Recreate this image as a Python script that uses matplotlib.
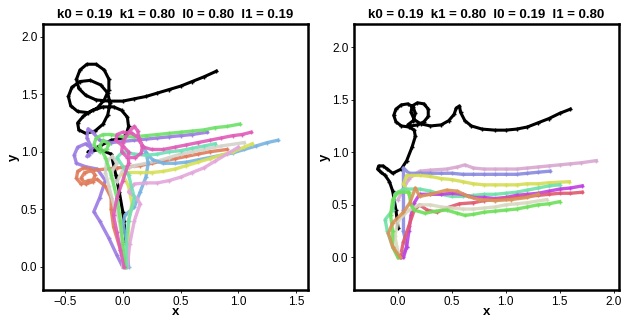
import numpy as np
import matplotlib.pyplot as plt

plt.rcParams.update({"font.family": ["Liberation Sans", "DejaVu Sans"], "font.size": 8.5})

# ---- left panel: k0 = 0.19, k1 = 0.80, l0 = 0.80, l1 = 0.19 ----
left_title = "k0 = 0.19  k1 = 0.80  l0 = 0.80  l1 = 0.19"
left_black_x = [0.03, 0.02, 0.01, 0.0, -0.03, -0.06, -0.1, -0.2, -0.3, -0.2, -0.1, 0.0, 0.03,
                0.05, 0.04, -0.01, -0.08, -0.17, -0.26, -0.34, -0.39, -0.38, -0.32, -0.24, -0.17,
                -0.13, -0.11, -0.13, -0.19, -0.28, -0.37, -0.44, -0.47, -0.45, -0.39, -0.3, -0.22,
                -0.16, -0.12, -0.12, -0.16, -0.23, -0.31, -0.37, -0.4, -0.38, -0.32, -0.23, -0.12,
                0.0, 0.1, 0.2, 0.3, 0.4, 0.5, 0.6, 0.7, 0.81]
left_black_y = [0.22, 0.3, 0.4, 0.48, 0.65, 0.8, 0.98, 1.02, 1.0, 1.05, 1.1, 1.12, 1.15,
                1.22, 1.3, 1.36, 1.39, 1.39, 1.36, 1.31, 1.25, 1.19, 1.16, 1.18, 1.24,
                1.32, 1.42, 1.51, 1.58, 1.62, 1.61, 1.56, 1.48, 1.4, 1.35, 1.34, 1.38,
                1.45, 1.54, 1.63, 1.71, 1.76, 1.76, 1.71, 1.63, 1.55, 1.49, 1.45, 1.44,
                1.44, 1.46, 1.48, 1.51, 1.54, 1.57, 1.61, 1.65, 1.7]

left_series = {
    "#9B7BE3": ([0.0, -0.05, -0.12, -0.2, -0.25, -0.2, -0.15, -0.22, -0.32, -0.4, -0.42, -0.39, -0.32,
                 -0.27, -0.29, -0.31, -0.27, -0.28, -0.31, -0.3, -0.26, -0.2, -0.1, 0.0, 0.1, 0.2,
                 0.3, 0.4, 0.5, 0.6, 0.73],
                [0.0, 0.1, 0.25, 0.4, 0.48, 0.6, 0.75, 0.85, 0.87, 0.9, 0.97, 1.04, 1.07,
                 1.03, 0.97, 0.96, 1.0, 1.06, 1.12, 1.2, 1.17, 1.1, 1.08, 1.09, 1.1, 1.11,
                 1.12, 1.13, 1.14, 1.15, 1.17]),
    "#E07B5B": ([0.02, -0.02, -0.08, -0.1, -0.1, -0.15, -0.22, -0.3, -0.36, -0.4, -0.39, -0.34, -0.28,
                 -0.24, -0.26, -0.32, -0.36, -0.33, -0.25, -0.15, -0.05, 0.05, 0.15, 0.25, 0.35, 0.45,
                 0.55, 0.65, 0.75, 0.9],
                [0.0, 0.15, 0.35, 0.5, 0.6, 0.7, 0.76, 0.75, 0.72, 0.77, 0.83, 0.86, 0.85,
                 0.8, 0.74, 0.72, 0.77, 0.82, 0.84, 0.85, 0.86, 0.87, 0.88, 0.9, 0.92, 0.94,
                 0.96, 0.98, 1.0, 1.02]),
    "#D3D3CB": ([0.0, 0.0, -0.03, -0.08, -0.12, -0.15, -0.14, -0.09, -0.05, -0.09, -0.1, -0.05, 0.0,
                 0.1, 0.2, 0.3, 0.4, 0.5, 0.6, 0.7, 0.85, 1.05],
                [0.0, 0.2, 0.4, 0.55, 0.7, 0.82, 0.92, 0.96, 0.9, 0.84, 0.77, 0.74, 0.84,
                 0.88, 0.9, 0.92, 0.95, 0.98, 1.0, 1.02, 1.05, 1.08]),
    "#78B3E0": ([0.05, 0.04, 0.0, 0.02, 0.1, 0.15, 0.2, 0.22, 0.2, 0.17, 0.2, 0.26, 0.35, 0.45, 0.55,
                 0.65, 0.75, 0.85, 0.95, 1.05, 1.15, 1.25, 1.34],
                [0.0, 0.2, 0.38, 0.45, 0.52, 0.65, 0.78, 0.9, 1.0, 1.05, 0.99, 0.93, 0.9, 0.9, 0.91,
                 0.93, 0.95, 0.97, 0.99, 1.02, 1.05, 1.08, 1.1]),
    "#D6E05A": ([0.03, 0.05, 0.05, 0.08, 0.05, 0.0, 0.05, 0.15, 0.25, 0.35, 0.45, 0.55, 0.65, 0.75,
                 0.85, 0.95, 1.05, 1.12],
                [0.0, 0.2, 0.4, 0.55, 0.7, 0.8, 0.82, 0.82, 0.82, 0.83, 0.85, 0.88, 0.91, 0.94,
                 0.97, 1.0, 1.04, 1.07]),
    "#E3A6DB": ([0.04, 0.06, 0.1, 0.15, 0.12, 0.05, 0.1, 0.2, 0.3, 0.4, 0.5, 0.6, 0.7, 0.8, 0.9, 1.0],
                [0.0, 0.2, 0.4, 0.55, 0.6, 0.65, 0.72, 0.73, 0.73, 0.75, 0.78, 0.82, 0.86, 0.92, 0.98, 1.04]),
    "#6FE0B5": ([0.03, 0.03, 0.05, 0.1, 0.05, -0.05, 0.0, 0.1, 0.2, 0.3, 0.4, 0.5, 0.6, 0.7, 0.8],
                [0.0, 0.2, 0.4, 0.6, 0.8, 0.95, 1.0, 0.98, 0.97, 0.98, 1.0, 1.01, 1.03, 1.05, 1.07]),
    "#6EE069": ([0.02, 0.0, -0.02, -0.05, -0.1, -0.15, -0.2, -0.17, -0.12, -0.14, -0.2, -0.25, -0.23,
                 -0.17, -0.1, 0.0, 0.1, 0.2, 0.3, 0.4, 0.5, 0.6, 0.7, 0.8, 0.9, 1.01],
                [0.0, 0.2, 0.4, 0.6, 0.8, 0.95, 1.05, 1.1, 1.07, 1.02, 1.0, 1.06, 1.12,
                 1.15, 1.15, 1.13, 1.13, 1.14, 1.15, 1.16, 1.17, 1.18, 1.19, 1.21, 1.22, 1.24]),
    "#E05CB8": ([0.01, -0.02, -0.05, -0.08, -0.05, 0.0, 0.05, 0.05, 0.0, -0.06, -0.05, 0.0, 0.08,
                 0.14, 0.17, 0.16, 0.11, 0.04, -0.01, 0.0, 0.05, 0.1, 0.13, 0.14, 0.18, 0.25, 0.35,
                 0.45, 0.55, 0.65, 0.75, 0.85, 0.95, 1.03, 1.11],
                [0.0, 0.15, 0.3, 0.45, 0.6, 0.75, 0.9, 1.0, 1.05, 1.1, 1.15, 1.17, 1.16,
                 1.12, 1.05, 0.99, 0.95, 0.95, 1.0, 1.08, 1.17, 1.22, 1.18, 1.1, 1.04, 1.02, 1.02,
                 1.04, 1.06, 1.08, 1.1, 1.12, 1.14, 1.15, 1.17]),
}

# ---- right panel: k0 = 0.19, k1 = 0.80, l0 = 0.19, l1 = 0.80 ----
right_title = "k0 = 0.19  k1 = 0.80  l0 = 0.19  l1 = 0.80"
right_black_x = [0.0, -0.02, -0.05, -0.08, -0.12, -0.16, -0.19, -0.18, -0.14, -0.1, -0.05, 0.03,
                 0.08, 0.13, 0.16, 0.15, 0.1, 0.03, -0.02, -0.04, -0.02, 0.03, 0.09, 0.14, 0.16,
                 0.14, 0.09, 0.12, 0.18, 0.24, 0.28, 0.28, 0.24, 0.18, 0.13, 0.12, 0.15, 0.21,
                 0.3, 0.4, 0.47, 0.52, 0.54, 0.57, 0.58, 0.62, 0.68, 0.78, 0.9, 1.0, 1.1, 1.2,
                 1.3, 1.4, 1.5, 1.6]
right_black_y = [0.28, 0.45, 0.63, 0.72, 0.78, 0.81, 0.84, 0.87, 0.87, 0.84, 0.8, 0.84,
                 0.92, 1.05, 1.15, 1.21, 1.24, 1.25, 1.29, 1.35, 1.41, 1.45, 1.46, 1.43, 1.37,
                 1.3, 1.26, 1.25, 1.26, 1.29, 1.34, 1.41, 1.46, 1.47, 1.44, 1.38, 1.31, 1.27,
                 1.25, 1.26, 1.3, 1.36, 1.42, 1.44, 1.38, 1.3, 1.25, 1.22, 1.21, 1.21, 1.22, 1.24,
                 1.28, 1.32, 1.37, 1.41]

right_series = {
    "#D8A8D0": ([0.0, 0.1, 0.2, 0.3, 0.45, 0.55, 0.62, 0.7, 0.8, 0.9, 1.0, 1.1, 1.2, 1.3, 1.4, 1.5,
                 1.6, 1.7, 1.84],
                [0.55, 0.75, 0.82, 0.83, 0.84, 0.86, 0.88, 0.85, 0.84, 0.84, 0.84, 0.84, 0.85, 0.86,
                 0.87, 0.88, 0.89, 0.9, 0.92]),
    "#8A8AE0": ([0.03, 0.08, 0.05, 0.05, 0.05, 0.05, 0.1, 0.2, 0.3, 0.4, 0.5, 0.6, 0.7, 0.8, 0.9,
                 1.0, 1.1, 1.2, 1.3, 1.41],
                [0.0, 0.1, 0.25, 0.45, 0.65, 0.85, 0.8, 0.8, 0.8, 0.8, 0.8, 0.79, 0.79, 0.79, 0.79,
                 0.79, 0.79, 0.8, 0.81, 0.82]),
    "#D5DD55": ([0.1, 0.05, 0.08, 0.2, 0.3, 0.4, 0.5, 0.6, 0.7, 0.8, 0.9, 1.0, 1.1, 1.2, 1.3, 1.4,
                 1.59],
                [0.6, 0.7, 0.78, 0.78, 0.77, 0.75, 0.74, 0.72, 0.7, 0.69, 0.69, 0.69, 0.69, 0.7, 0.7,
                 0.71, 0.72]),
    "#6FE0A8": ([0.0, -0.05, -0.1, -0.12, -0.05, -0.03, 0.05, 0.2, 0.3, 0.4, 0.5, 0.6, 0.7, 0.8,
                 0.9, 1.0, 1.1, 1.2, 1.3, 1.4, 1.5],
                [0.0, 0.1, 0.25, 0.36, 0.45, 0.6, 0.65, 0.65, 0.63, 0.6, 0.58, 0.58, 0.59, 0.6,
                 0.6, 0.61, 0.62, 0.64, 0.66, 0.68, 0.69]),
    "#C040E0": ([0.05, 0.08, 0.1, 0.12, 0.15, 0.2, 0.3, 0.4, 0.5, 0.6, 0.7, 0.8, 0.9, 1.0, 1.1, 1.2,
                 1.3, 1.4, 1.5, 1.6, 1.71],
                [0.0, 0.1, 0.25, 0.4, 0.52, 0.6, 0.6, 0.6, 0.61, 0.6, 0.57, 0.57, 0.56, 0.57, 0.59,
                 0.6, 0.61, 0.63, 0.65, 0.66, 0.68]),
    "#E05A70": ([0.02, 0.05, 0.1, 0.15, 0.2, 0.27, 0.36, 0.45, 0.57, 0.7, 0.8, 0.9, 1.0, 1.1, 1.2,
                 1.3, 1.4, 1.5, 1.6, 1.71],
                [0.0, 0.15, 0.3, 0.45, 0.5, 0.45, 0.43, 0.47, 0.51, 0.52, 0.54, 0.55, 0.56, 0.57,
                 0.58, 0.59, 0.6, 0.61, 0.61, 0.62]),
    "#D8D8C0": ([0.0, -0.03, 0.0, 0.1, 0.2, 0.3, 0.4, 0.5, 0.6, 0.7, 0.8, 0.9, 1.0, 1.1, 1.2, 1.38],
                [0.05, 0.2, 0.35, 0.45, 0.5, 0.5, 0.48, 0.47, 0.46, 0.46, 0.47, 0.48, 0.5, 0.51,
                 0.52, 0.55]),
    "#6EE05A": ([0.0, -0.05, -0.05, -0.07, -0.05, 0.0, 0.1, 0.12, 0.15, 0.25, 0.35, 0.45, 0.55,
                 0.62, 0.7, 0.8, 0.9, 1.0, 1.1, 1.2, 1.3, 1.4, 1.5],
                [0.0, 0.1, 0.25, 0.4, 0.55, 0.62, 0.62, 0.5, 0.45, 0.42, 0.44, 0.45, 0.42,
                 0.4, 0.41, 0.43, 0.44, 0.45, 0.46, 0.48, 0.5, 0.51, 0.53]),
    "#D9935A": ([0.02, -0.05, -0.09, -0.05, 0.05, 0.11, 0.16, 0.2, 0.3, 0.45, 0.55, 0.65, 0.75, 0.9,
                 1.05, 1.2, 1.3],
                [0.0, 0.1, 0.23, 0.33, 0.43, 0.52, 0.66, 0.58, 0.6, 0.64, 0.63, 0.58, 0.55, 0.54,
                 0.55, 0.57, 0.6]),
}


def draw_panel(ax, title, bx, by, series, xlim, ylim, xticks, yticks):
    ax.plot(bx, by, color="black", lw=2.2, marker="+", ms=3, mew=1, zorder=2)
    for col, (xs, ys) in series.items():
        ax.plot(xs, ys, color=col, lw=2.4, marker="+", ms=3.5, mew=1, alpha=0.9, zorder=3)
    ax.set_xlim(*xlim)
    ax.set_ylim(*ylim)
    ax.set_xticks(xticks)
    ax.set_yticks(yticks)
    ax.set_xticklabels([f"{t:.1f}".replace("-", "\u2212") for t in xticks])
    ax.set_yticklabels([f"{t:.1f}" for t in yticks])
    ax.tick_params(direction="out", length=2.5, width=0.6, pad=1.5, labelsize=8.5)
    for s in ax.spines.values():
        s.set_linewidth(1.8)
    ax.set_title(title, fontsize=9.5, fontweight="bold", pad=4)
    ax.set_xlabel("x", fontsize=9.5, fontweight="bold", labelpad=-1)
    ax.set_ylabel("y", fontsize=9.5, fontweight="bold", labelpad=1)


fig = plt.figure(figsize=(6.22, 3.21), dpi=100)
ax1 = fig.add_axes([0.069, 0.0965, 0.426, 0.829])
ax2 = fig.add_axes([0.569, 0.0965, 0.426, 0.829])

draw_panel(ax1, left_title, left_black_x, left_black_y, left_series,
           (-0.69, 1.6), (-0.2, 2.11), [-0.5, 0.0, 0.5, 1.0, 1.5], [0.0, 0.5, 1.0, 1.5, 2.0])
draw_panel(ax2, right_title, right_black_x, right_black_y, right_series,
           (-0.41, 2.05), (-0.31, 2.22), [0.0, 0.5, 1.0, 1.5, 2.0], [0.0, 0.5, 1.0, 1.5, 2.0])

fig.savefig("out.png", dpi=100)
